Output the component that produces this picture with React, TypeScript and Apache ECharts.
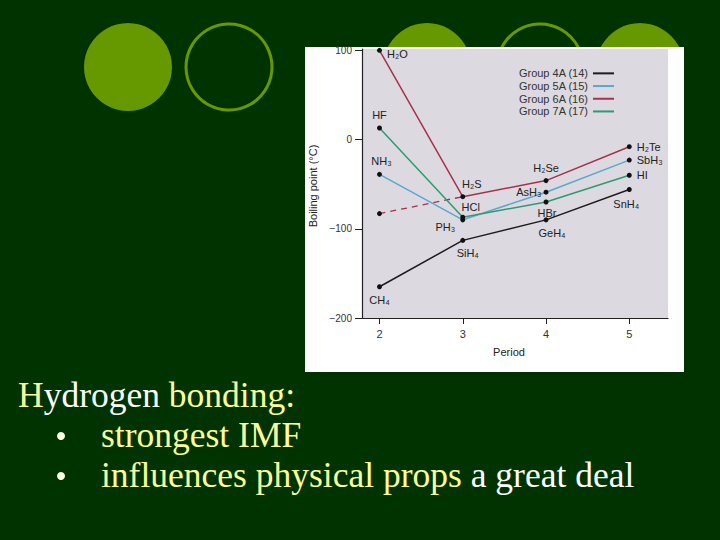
import { useEffect, useRef } from 'react';
import * as echarts from 'echarts';

const periods = [2, 3, 4, 5];
const yTicks = [-200, -100, 0, 100];

const group4A = [-165, -113, -90, -56];
const group5A = [-39, -90, -59, -23];
const group6A = [100, -64, -46, -8];
const group7A = [13, -87, -70, -40];
const waterTrend = [-83, -64];

const names4A = ['CH₄', 'SiH₄', 'GeH₄', 'SnH₄'];
const names5A = ['NH₃', 'PH₃', 'AsH₃', 'SbH₃'];
const names6A = ['H₂O', 'H₂S', 'H₂Se', 'H₂Te'];
const names7A = ['HF', 'HCl', 'HBr', 'HI'];

const groupNames = ['Group 4A (14)', 'Group 5A (15)', 'Group 6A (16)', 'Group 7A (17)'];
const groupColors = ['#1c1c1c', '#5aa8cc', '#a8304c', '#2f9a70'];

// label placement per point: [position, offsetX, offsetY]
type Place = [string, number, number];
const place4A: Place[] = [['bottom', 0, 0], ['bottom', 5, 0], ['bottom', 6, 0], ['bottom', -3, 1]];
const place5A: Place[] = [['top', 2, 0], ['left', 0, 7], ['left', 3, 0], ['right', 0, 0]];
const place6A: Place[] = [['right', 0, 4], ['top', 9, 0], ['top', 0, 0], ['right', 0, 0]];
const place7A: Place[] = [['top', 0, 0], ['top', 8, 3], ['bottom', 1, -2], ['right', 0, 0]];

const FONT = '"Liberation Sans", Arial, sans-serif';
const SERIF = '"Liberation Serif", "Times New Roman", serif';

const buildData = (values: number[], names: string[], places: Place[]) =>
  values.map((v, i) => ({
    value: [periods[i], v],
    label: {
      show: true,
      position: places[i][0],
      offset: [places[i][1], places[i][2]],
      distance: 5,
      formatter: names[i],
      fontSize: 11,
      fontFamily: FONT,
      color: '#222',
    },
  }));

function App() {
  const chartRef = useRef<HTMLDivElement>(null);

  useEffect(() => {
    if (!chartRef.current) return;
    const chart = echarts.init(chartRef.current, null, { renderer: 'svg' });

    const groups = [
      { values: group4A, names: names4A, places: place4A },
      { values: group5A, names: names5A, places: place5A },
      { values: group6A, names: names6A, places: place6A },
      { values: group7A, names: names7A, places: place7A },
    ];

    const circleColor = '#669900';
    const yellow = { fontSize: 35.5, fontFamily: SERIF, fill: '#ffff99' };
    const white = { fontSize: 35.5, fontFamily: SERIF, fill: '#ffffff' };

    chart.setOption({
      animation: false,
      backgroundColor: '#003300',
      graphic: [
        { type: 'circle', z: -10, shape: { cx: 128, cy: 67, r: 44 }, style: { fill: circleColor } },
        { type: 'circle', z: -10, shape: { cx: 229, cy: 67, r: 43 }, style: { fill: 'none', stroke: circleColor, lineWidth: 3 } },
        { type: 'circle', z: -10, shape: { cx: 427, cy: 67, r: 44 }, style: { fill: circleColor } },
        { type: 'circle', z: -10, shape: { cx: 540, cy: 67, r: 43 }, style: { fill: 'none', stroke: circleColor, lineWidth: 3 } },
        { type: 'circle', z: -10, shape: { cx: 640, cy: 67, r: 44 }, style: { fill: circleColor } },
        { type: 'rect', z: -5, shape: { x: 305, y: 47, width: 379, height: 325 }, style: { fill: '#ffffff' } },
        {
          type: 'text',
          x: 313,
          y: 186,
          rotation: Math.PI / 2,
          style: {
            text: 'Boiling point (°C)',
            font: `11px ${FONT}`,
            fill: '#222',
            align: 'center',
            verticalAlign: 'middle',
          },
        },
        {
          type: 'text',
          x: 509,
          y: 352,
          style: { text: 'Period', font: `11px ${FONT}`, fill: '#222', align: 'center', verticalAlign: 'middle' },
        },
        {
          type: 'text',
          x: 18,
          y: 395,
          style: {
            text: '{y|H}{w|ydrogen }{y|bonding:}',
            verticalAlign: 'middle',
            rich: { y: yellow, w: white },
          },
        },
        { type: 'circle', shape: { cx: 61, cy: 436, r: 4 }, style: { fill: '#ffffe6' } },
        { type: 'circle', shape: { cx: 61, cy: 476, r: 4 }, style: { fill: '#ffffe6' } },
        {
          type: 'text',
          x: 101,
          y: 435,
          style: {
            text: 'strongest IMF',
            font: `35.5px ${SERIF}`,
            fill: '#ffff99',
            verticalAlign: 'middle',
          },
        },
        {
          type: 'text',
          x: 101,
          y: 475,
          style: {
            text: '{y|influences physical props }{w|a great deal}',
            verticalAlign: 'middle',
            rich: { y: yellow, w: white },
          },
        },
      ],
      legend: {
        orient: 'vertical',
        right: 101,
        top: 62,
        align: 'right',
        itemWidth: 21,
        itemHeight: 2,
        itemGap: 0,
        icon: 'rect',
        textStyle: { fontSize: 11, fontFamily: FONT, color: '#333', lineHeight: 12.7 },
        data: groupNames.map((n, i) => ({ name: n, itemStyle: { color: groupColors[i] } })),
      },
      grid: {
        left: 362,
        top: 49,
        width: 306,
        height: 269,
        show: true,
        backgroundColor: '#dcdae0',
        borderWidth: 0,
      },
      xAxis: {
        type: 'value',
        min: 1.79,
        max: 5.465,
        splitLine: { show: false },
        axisLine: { onZero: false, lineStyle: { color: '#222', width: 1.2 } },
        axisTick: { customValues: periods, length: 6, lineStyle: { color: '#222' } },
        axisLabel: { customValues: periods, margin: 10, fontSize: 11, fontFamily: FONT, color: '#333' },
      },
      yAxis: {
        type: 'value',
        min: -200,
        max: 101.5,
        splitLine: { show: false },
        axisLine: { show: true, lineStyle: { color: '#222', width: 1.2 } },
        axisTick: { show: true, customValues: yTicks, length: 7, lineStyle: { color: '#222' } },
        axisLabel: {
          customValues: yTicks,
          margin: 10,
          fontSize: 10,
          fontFamily: FONT,
          color: '#333',
          formatter: (v: number) => (v < 0 ? '\u2212' + Math.abs(v) : String(v)),
        },
      },
      series: [
        {
          name: 'water trend',
          type: 'line',
          symbol: 'circle',
          symbolSize: 5,
          itemStyle: { color: '#111' },
          lineStyle: { color: groupColors[2], width: 1.3, type: [6, 5] },
          data: waterTrend.map((v, i) => (i === 0 ? [periods[i], v] : { value: [periods[i], v], symbol: 'none' })),
          z: 1,
        },
        ...groups.map((g, i) => ({
          name: groupNames[i],
          type: 'line',
          symbol: 'circle',
          symbolSize: 5,
          itemStyle: { color: '#111' },
          lineStyle: { color: groupColors[i], width: 1.5 },
          data: buildData(g.values, g.names, g.places),
          z: 2,
        })),
      ],
    });

    return () => chart.dispose();
  }, []);

  return (
    <div
      ref={chartRef}
      style={{ position: 'fixed', left: 0, top: 0, width: '720px', height: '540px' }}
    />
  );
}

export default App;
